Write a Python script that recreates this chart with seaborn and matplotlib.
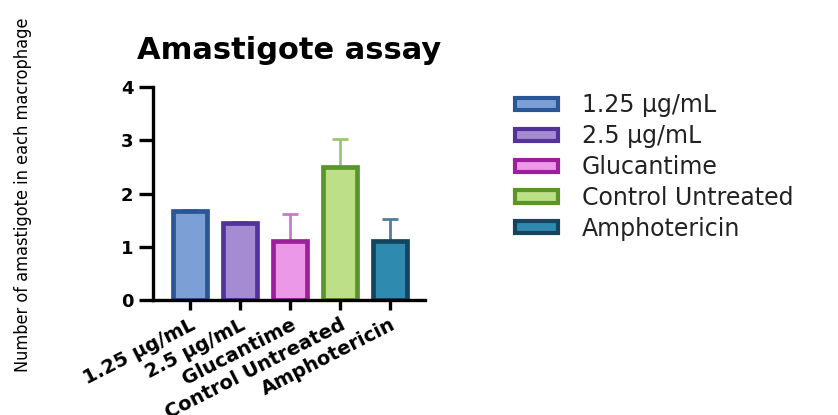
import matplotlib
matplotlib.use("Agg")
import matplotlib.pyplot as plt
from matplotlib.patches import Patch
import seaborn as sns
import pandas as pd

categories = ["1.25 μg/mL", "2.5 μg/mL", "Glucantime", "Control Untreated", "Amphotericin"]
means = [1.68, 1.45, 1.11, 2.50, 1.11]
errors = [0.02, 0.02, 0.50, 0.52, 0.42]
yticks = [0, 1, 2, 3, 4]

fills = ["#7ca0d6", "#a58bd2", "#eb98e8", "#bcdf88", "#2f8ab0"]
edges = ["#2a5597", "#53339a", "#9c1f9c", "#5a9627", "#15445f"]
err_colors = ["#5a7fb8", "#7a60b5", "#c77acb", "#9cc47a", "#4f7f98"]

sns.set_style("white")
plt.rcParams["font.family"] = ["DejaVu Sans"]
plt.rcParams["text.color"] = "black"
plt.rcParams["xtick.color"] = "black"
plt.rcParams["ytick.color"] = "black"

fig = plt.figure(figsize=(8.38, 4.15), dpi=100)
ax = fig.add_axes([0.1826, 0.277, 0.3245, 0.513])

df = pd.DataFrame({"cat": categories, "val": means})
sns.barplot(data=df, x="cat", y="val", hue="cat", palette=fills, width=0.68,
            legend=False, ax=ax, errorbar=None, saturation=1)
for p, ec in zip(ax.patches, edges):
    p.set_edgecolor(ec)
    p.set_linewidth(3.4)
    p.set_zorder(2)

for i, (m, e, c) in enumerate(zip(means, errors, err_colors)):
    ax.errorbar(i, m, yerr=[[0], [e]], fmt="none", ecolor=c, elinewidth=2,
                capsize=5.5, capthick=2, zorder=1)

ax.set_xlim(-0.74, 4.7)
ax.set_ylim(0, 4)
ax.set_yticks(yticks)
ax.set_yticklabels([str(t) for t in yticks], fontsize=13, fontweight="bold")
ax.set_xticks(range(len(categories)))
ax.set_xticklabels(categories, rotation=27, ha="right", rotation_mode="anchor",
                   fontsize=14, fontweight="bold")
ax.set_xlabel("")
ax.set_ylabel("")
for s in ["top", "right"]:
    ax.spines[s].set_visible(False)
for s in ["left", "bottom"]:
    ax.spines[s].set_linewidth(2.4)
    ax.spines[s].set_color("black")
ax.tick_params(axis="y", direction="out", length=10, width=2.4, color="black",
               left=True, pad=4)
ax.tick_params(axis="x", direction="out", length=7, width=2.4, color="black",
               bottom=True, pad=4)

ax.set_title("Amastigote assay", fontsize=22, fontweight="bold", pad=20)

fig.text(0.027, 0.53, "Number of amastigote in each macrophage", rotation=90,
         ha="center", va="center", fontsize=13, fontstretch="condensed",
         family=["DejaVu Sans"])

handles = [Patch(facecolor=f, edgecolor=e, linewidth=3) for f, e in zip(fills, edges)]
leg = fig.legend(handles, categories, loc="upper left", bbox_to_anchor=(0.6146, 0.775),
                 frameon=False, fontsize=17, handlelength=1.82, handleheight=0.42,
                 handletextpad=1.0, labelspacing=0.29, borderpad=0, borderaxespad=0)
for t in leg.get_texts():
    t.set_color("#222222")

fig.savefig("out.png", dpi=100)
